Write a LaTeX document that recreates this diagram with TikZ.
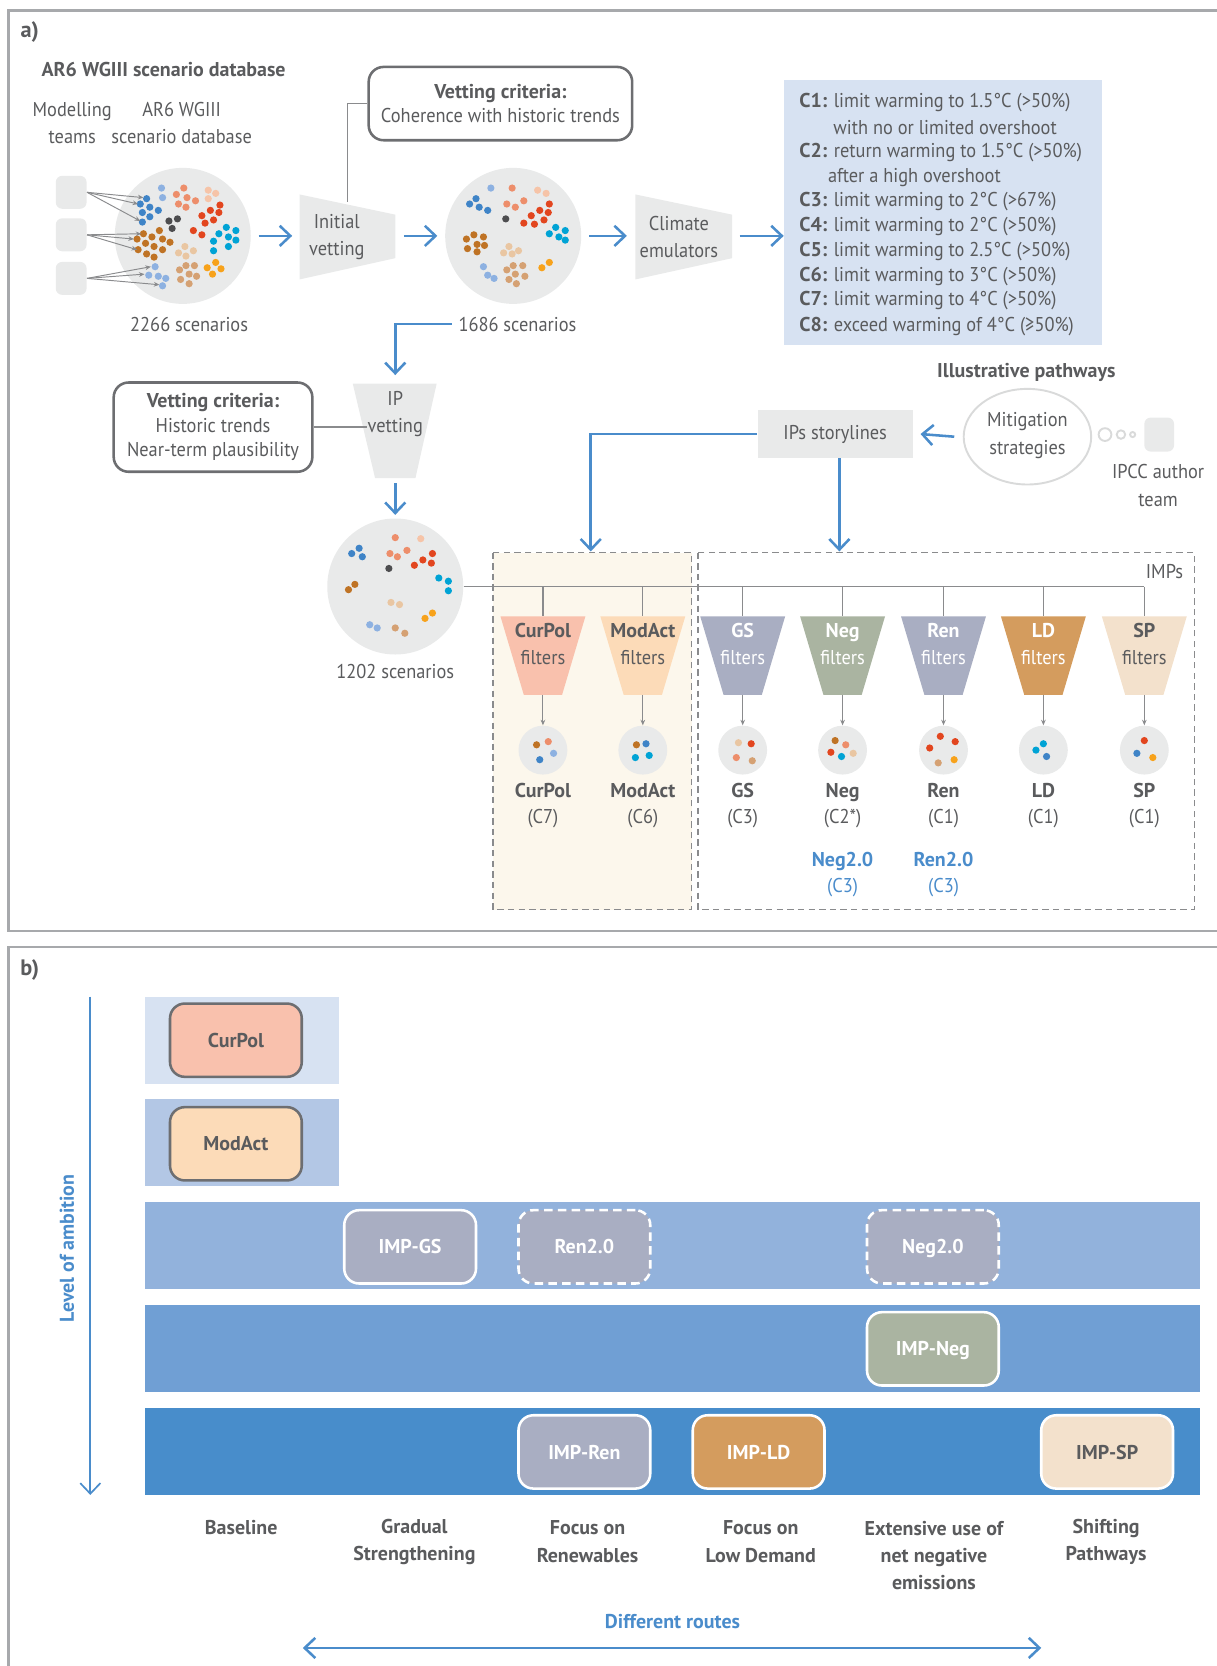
\documentclass[tikz,border=0pt]{standalone}
\usepackage{fontspec}
\setmainfont{PT Sans}[FakeStretch=0.92,BoldFeatures={FakeStretch=1.0}]
\newfontfamily\lvlfont{PT Sans}
\usetikzlibrary{arrows.meta,shapes.geometric}
\definecolor{txt}{HTML}{5A5B5D}
\definecolor{bordg}{HTML}{6D6E71}
\definecolor{gln}{HTML}{8A8B8D}
\definecolor{framec}{HTML}{A7A9AC}
\definecolor{bgray}{HTML}{E9EAEA}
\definecolor{bline}{HTML}{4A8CCB}
\definecolor{cboxc}{HTML}{D7E2F2}
\definecolor{curpolc}{HTML}{F9C1AD}
\definecolor{modactc}{HTML}{FCDBB8}
\definecolor{gsc}{HTML}{A9AEC2}
\definecolor{negc}{HTML}{AAB4A1}
\definecolor{ldc}{HTML}{D49C5E}
\definecolor{spc}{HTML}{F3E1CC}
\definecolor{beigec}{HTML}{FCF7EC}
\definecolor{bandA}{HTML}{D7E2F2}
\definecolor{bandB}{HTML}{B3C7E5}
\definecolor{bandC}{HTML}{92B2DC}
\definecolor{bandD}{HTML}{709FD4}
\definecolor{bandE}{HTML}{488DCB}
\definecolor{dblue}{HTML}{3F84C7}
\definecolor{dlblue}{HTML}{8DB1E1}
\definecolor{dsalmon}{HTML}{ED8E6B}
\definecolor{dpeach}{HTML}{F6C4A8}
\definecolor{dred}{HTML}{E2461F}
\definecolor{ddark}{HTML}{4D4D4F}
\definecolor{dcyan}{HTML}{00A3D5}
\definecolor{dbrown}{HTML}{BF7325}
\definecolor{dltan}{HTML}{E9C6A2}
\definecolor{dtan}{HTML}{D5A173}
\definecolor{dyellow}{HTML}{F7A21B}
\newcommand\fs{\fontsize{9.4pt}{12.8pt}\selectfont}
\newcommand\mydots[2]{\foreach \a/\b in {#2}{\fill[#1] (\a,\b) circle (1.7pt);}}
\begin{document}
\begin{tikzpicture}[x=0.5pt,y=-0.5pt,
  t/.style={text=txt,font=\fs,inner sep=0pt,align=center},
  tb/.style={t,font=\fs\bfseries},
  nd/.style={text depth=0pt},
  barrow/.style={draw=bline,line width=1.2pt,-{Straight Barb[length=5pt,width=9.5pt]}},
  garrow/.style={draw=gln,line width=0.45pt,-{Stealth[length=2.6pt,width=2.2pt]}},
  gline/.style={draw=gln,line width=0.6pt},
  vbox/.style={t,draw=bordg,line width=1.2pt,rounded corners=7pt,fill=white},
  bigc/.style={circle,fill=bgray,minimum size=64pt,inner sep=0pt},
  smc/.style={circle,fill=bgray,minimum size=23pt,inner sep=0pt},
  sqr/.style={fill=bgray,rounded corners=3pt,minimum width=14.5pt,minimum height=15.5pt,inner sep=0pt},
  band/.style={inner sep=0pt,minimum height=41pt},
  impbox/.style={font=\fs\bfseries,rounded corners=7pt,line width=1.2pt,minimum width=62pt,minimum height=34.5pt,inner sep=0pt,text depth=0pt},
  dashedbox/.style={draw=gln,line width=0.6pt,dash pattern=on 3pt off 2pt},
  cline/.style={t,anchor=west,align=left},
]
\useasboundingbox (0,0) rectangle (1145,1568);
% frames
\draw[framec,line width=1.1pt] (1160,10) -- (8,10) -- (8,876) -- (1160,876);
\draw[framec,line width=1.1pt] (1160,891) -- (8,891) -- (8,1580);
\node[tb,font=\fontsize{10.5}{12}\selectfont\bfseries] (pa) at (28,30) {a)};
\node[tb,font=\fontsize{10.5}{12}\selectfont\bfseries] (pb) at (28,913) {b)};

% ---------- panel a -------------
\node[tb] (dbtitle) at (154,65) {AR6 WGIII scenario database};
\node[t] (mteams) at (68,116) {Modelling\\teams};
\node[t] (mdb) at (171,116) {AR6 WGIII\\scenario database};
\node[sqr] (s1) at (67,181) {};
\node[sqr] (s2) at (67,221) {};
\node[sqr] (s3) at (67,262) {};
\node[bigc] (c1) at (172,222) {};
\mydots{dlblue}{152/177,153/186,146/251,140/259,149/260,156/262,153/269}
\mydots{dblue}{138/187,132/192,141/195,149/198,134/200,141/204,134/209}
\mydots{dsalmon}{173/177,166/183,176/186,184/189,168/192,175/195}
\mydots{dpeach}{196/179,203/182,196/187}
\mydots{dred}{207/193,198/198,206/200,190/203,201/207,193/210,182/217,190/221}
\mydots{ddark}{159/208,167/206,162/215}
\mydots{dcyan}{213/214,222/217,206/220,215/223,222/226,201/227,215/232,201/236}
\mydots{dbrown}{150/217,135/220,143/223,153/225,129/225,160/228,137/229,145/232,153/235,130/235,138/239,145/242}
\mydots{dltan}{174/232,168/238,182/236,175/241}
\mydots{dtan}{175/250,183/250,169/254,178/258,185/260,170/263,178/267}
\mydots{dyellow}{203/247,195/252,208/253,200/258}
\foreach \a/\b in {135/186,130/192,132/208} \draw[garrow] (s1.east) -- (\a,\b);
\foreach \a/\b in {133/220,126/225,129/235} \draw[garrow] (s2.east) -- (\a,\b);
\foreach \a/\b in {142/251,136/258,150/268} \draw[garrow] (s3.east) -- (\a,\b);
\node[t] (n2266) at (178,305) {2266 scenarios};

\fill[bgray] (282,183) -- (372,202) -- (372,243) -- (282,263) -- cycle;
\node[t] (ivet) at (317,223) {Initial\\vetting};
\draw[barrow] ([xshift=3.5pt]c1.east) -- (275,222);

\node[vbox,minimum width=124pt,minimum height=34.5pt] (vb1) at (471,97.5) {\textbf{Vetting criteria:}\\[-1.2pt]Coherence with historic trends};
\draw[gline] (327,190) |- (vb1.west);

\node[bigc] (c2) at (483,222) {};
\mydots{dlblue}{462/177,455/251,459/259,465/262}
\mydots{dblue}{448/187,442/192,451/195,459/198}
\mydots{dsalmon}{482/177,493/189,477/192,485/195}
\mydots{dpeach}{506/179,514/182}
\mydots{dred}{517/192,508/198,516/200,500/203,512/207,493/210,503/211}
\mydots{ddark}{476/206}
\mydots{dcyan}{523/214,532/217,517/220,526/223,532/226}
\mydots{dbrown}{446/221,439/225,455/223,449/230,456/231,440/234,449/237}
\mydots{dltan}{479/232,474/238,482/239,488/236}
\mydots{dtan}{483/250,492/250,477/254,485/258,494/260,479/263,486/267}
\mydots{dyellow}{517/247,510/252}
\draw[barrow] (380,222) -- ([xshift=-3.5pt]c2.west);
\node[t] (n1686) at (487,305) {1686 scenarios};

\fill[bgray] (598,183) -- (689,202) -- (689,243) -- (598,263) -- cycle;
\node[t] (cemu) at (639,223) {Climate\\emulators};
\draw[barrow] ([xshift=3.5pt]c2.east) -- (590,222);

\node[fill=cboxc,minimum width=149.5pt,minimum height=125pt,inner sep=0pt] (cbox) at (887.5,200) {};
\draw[barrow] (696,222) -- (cbox.west |- 0,222);
\node[cline] (cl1) at (752,97) {\textbf{C1:} limit warming to 1.5°C (>50\%)};
\node[cline] (cl1b) at (784,120) {with no or limited overshoot};
\node[cline] (cl2) at (752,144) {\textbf{C2:} return warming to 1.5°C (>50\%)};
\node[cline] (cl2b) at (779,167) {after a high overshoot};
\node[cline] (cl3) at (752,190) {\textbf{C3:} limit warming to 2°C (>67\%)};
\node[cline] (cl4) at (752,213) {\textbf{C4:} limit warming to 2°C (>50\%)};
\node[cline] (cl5) at (752,237) {\textbf{C5:} limit warming to 2.5°C (>50\%)};
\node[cline] (cl6) at (752,260) {\textbf{C6:} limit warming to 3°C (>50\%)};
\node[cline] (cl7) at (752,283) {\textbf{C7:} limit warming to 4°C (>50\%)};
\node[cline] (cl8) at (752,307) {\textbf{C8:} exceed warming of 4°C (≥50\%)};

% IP vetting
\fill[bgray] (332,361) -- (411,361) -- (391,450) -- (353,450) -- cycle;
\node[t] (ipv) at (372,390) {IP\\vetting};
\draw[barrow] ([xshift=-3pt]n1686.west) -| (372,353);
\node[vbox,minimum width=93.5pt,minimum height=42pt] (vb2) at (200.5,402) {\textbf{Vetting criteria:}\\[-1.2pt]Historic trends\\[-1.2pt]Near-term plausibility};
\draw[gline] (vb2.east) -- (345,402);

\node[bigc] (c3) at (372,552) {};
\draw[barrow] (372,455) -- ([yshift=1.5pt]c3.north);
\mydots{dblue}{338/516,331/521,341/524}
\mydots{dsalmon}{372/506,383/518,367/521,374/524}
\mydots{dpeach}{396/507}
\mydots{dred}{407/521,398/527,406/530,390/532}
\mydots{ddark}{366/535}
\mydots{dcyan}{413/544,422/547,422/556}
\mydots{dbrown}{334/550,328/555}
\mydots{dltan}{368/567,376/569}
\mydots{dyellow}{407/577,400/582}
\mydots{dlblue}{348/588,355/591}
\mydots{dtan}{372/591,381/596}
\node[t] (n1202) at (372,632) {1202 scenarios};

% IMP boxes
\fill[beigec] (464,520) rectangle (651,856);
\draw[dashedbox] (464,520) rectangle (651,856);
\draw[dashedbox] (657,520) rectangle (1124,856);
\node[t] (imps) at (1096,538) {IMPs};
\draw[gline] (c3.east) -- (1077,552);
\foreach \x/\c/\nm/\tc/\cl in {511/curpolc/CurPol/txt/C7, 605/modactc/ModAct/txt/C6, 699/gsc/GS/white/C3, 793/negc/Neg/white/C2*, 888/gsc/Ren/white/C1, 982/ldc/LD/white/C1, 1077/spc/SP/txt/C1}{
  \draw[gline] (\x,552) -- (\x,580);
  \fill[\c] (\x-40,580) -- (\x+40,580) -- (\x+18,654) -- (\x-18,654) -- cycle;
  \node[tb,nd,text=\tc] (f\nm) at (\x,593) {\nm};
  \node[t,text=\tc] (ff\nm) at (\x,619) {filters};
  \node[smc] (sc\nm) at (\x,706) {};
  \draw[garrow] (\x,654) -- (sc\nm.north);
  \node[tb,nd] (l\nm) at (\x,744) {\nm};
  \node[t] (lc\nm) at (\x,770) {(\cl)};
}
\mydots{dbrown}{505/701,599/701,786/697}
\mydots{dsalmon}{516/698,693/713,796/701}
\mydots{dlblue}{521/709}
\mydots{dblue}{508/715,608/700,985/712,1070/709}
\mydots{dcyan}{598/713,611/711,792/712,982/700,975/706}
\mydots{dltan}{695/699,803/709}
\mydots{dred}{707/700,782/708,885/693,899/698,875/704,1077/697}
\mydots{dtan}{708/716,883/718}
\mydots{dyellow}{898/715,1085/713}
\node[t,nd,text=bline,font=\fs\bfseries] (neg2) at (793,809) {Neg2.0};
\node[t,text=bline] (neg2c) at (793,835) {(C3)};
\node[t,nd,text=bline,font=\fs\bfseries] (ren2) at (888,809) {Ren2.0};
\node[t,text=bline] (ren2c) at (888,835) {(C3)};

% Illustrative pathways
\node[tb] (illp) at (966,351) {Illustrative pathways};
\node[ellipse,draw=bgray!85!gray,line width=0.9pt,minimum width=60pt,minimum height=45pt,inner sep=0pt] (mit) at (967,411) {};
\node[t] (mitt) at (967,410) {Mitigation\\strategies};
\draw[bgray!85!gray,line width=0.9pt] (1040,409) circle (3pt);
\draw[bgray!85!gray,line width=0.9pt] (1055,409) circle (2pt);
\draw[bgray!85!gray,line width=0.9pt] (1066,409) circle (1.2pt);
\node[fill=bgray,rounded corners=3pt,minimum width=14pt,minimum height=16pt,inner sep=0pt] (ipcc) at (1091,409) {};
\node[t] (ipcct) at (1090,457) {IPCC author\\team};
\node[fill=bgray,minimum width=73pt,minimum height=22.5pt,inner sep=0pt] (ips) at (786,408.5) {};
\node[t] (ipst) at (786,408.5) {IPs storylines};
\draw[barrow] ([xshift=-4pt]mit.west) -- ([xshift=3.5pt]ips.east);
\draw[barrow] (ips.west) -| (556,519);
\draw[barrow] ([xshift=2pt]ips.south) -- (790,519);

% ---------- panel b -------------
\draw[barrow,line width=0.8pt] (85,938) -- (85,1407);
\node[text=bline,font=\lvlfont\fontsize{9.4pt}{10pt}\selectfont\bfseries,rotate=90,inner sep=0pt] (lvl) at (63,1175) {Level of ambition};
\node[band,fill=bandA,minimum width=91.5pt] (bA) at (227.5,979) {};
\node[band,fill=bandB,minimum width=91.5pt] (bB) at (227.5,1075) {};
\node[band,fill=bandC,minimum width=496.5pt] (bC) at (632.5,1172) {};
\node[band,fill=bandD,minimum width=496.5pt] (bD) at (632.5,1269) {};
\node[band,fill=bandE,minimum width=496.5pt] (bE) at (632.5,1366) {};
\node[impbox,draw=bordg,fill=curpolc,text=txt] (bcur) at (222,979) {CurPol};
\node[impbox,draw=bordg,fill=modactc,text=txt] (bmod) at (222,1076.5) {ModAct};
\node[impbox,draw=white,fill=gsc,text=white] (bgs) at (386,1173.5) {IMP-GS};
\node[impbox,draw=white,fill=gsc,text=white,dash pattern=on 4pt off 2.5pt] (bren2) at (550,1173.5) {Ren2.0};
\node[impbox,draw=white,fill=gsc,text=white,dash pattern=on 4pt off 2.5pt] (bneg2) at (878,1173.5) {Neg2.0};
\node[impbox,draw=white,fill=negc,text=white] (bneg) at (878,1269.5) {IMP-Neg};
\node[impbox,draw=white,fill=gsc,text=white] (bren) at (550,1366.5) {IMP-Ren};
\node[impbox,draw=white,fill=ldc,text=white] (bld) at (714,1366.5) {IMP-LD};
\node[impbox,draw=white,fill=spc,text=txt] (bsp) at (1042,1366.5) {IMP-SP};
\node[tb] (rb) at (227,1438) {Baseline};
\node[tb] (rg) at (390,1451) {Gradual\\Strengthening};
\node[tb] (rr) at (553,1451) {Focus on\\Renewables};
\node[tb] (rl) at (716,1451) {Focus on\\Low Demand};
\node[tb] (re) at (879,1464) {Extensive use of\\net negative\\emissions};
\node[tb] (rs) at (1041,1451) {Shifting\\Pathways};
\node[t,text=bline,font=\fs\bfseries] (droutes) at (633,1526) {Different routes};
\coordinate (dl) at (285,1551);
\coordinate (dr) at (980,1551);
\draw[barrow,{Straight Barb[length=5pt,width=9.5pt]}-{Straight Barb[length=5pt,width=9.5pt]}] (dl) -- (dr);
\end{tikzpicture}
\end{document}
